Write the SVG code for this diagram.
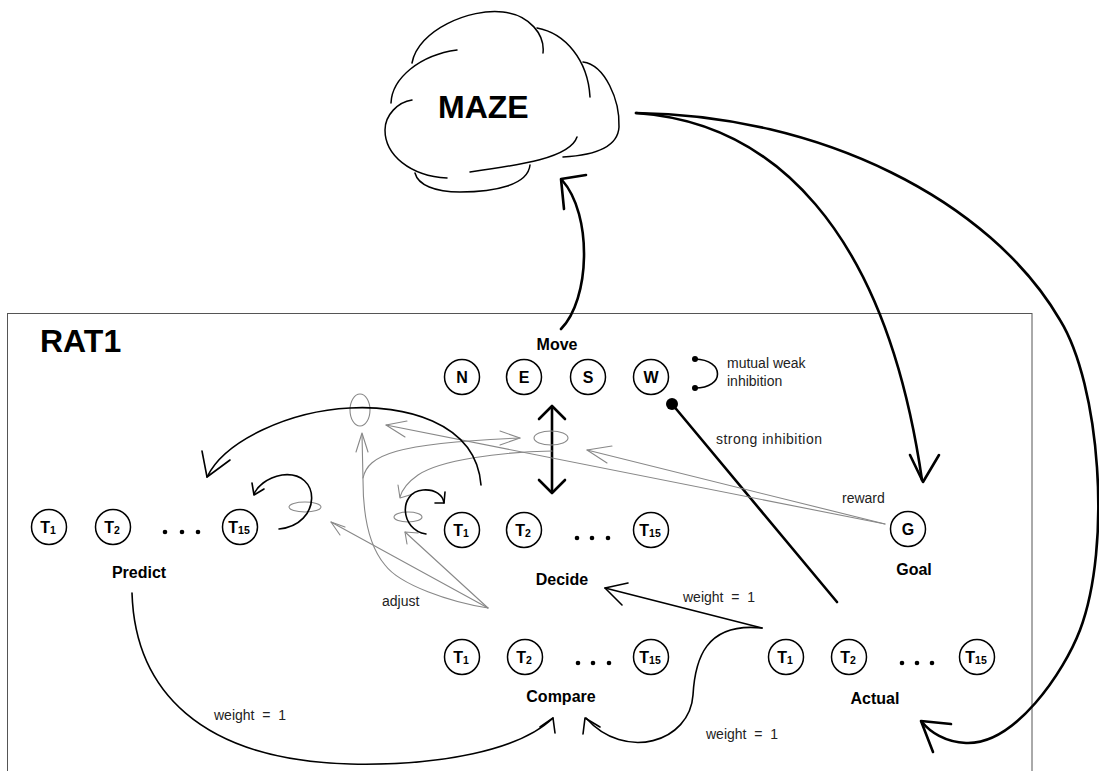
<svg xmlns="http://www.w3.org/2000/svg" width="1099" height="771" viewBox="0 0 1099 771">
<style>
.frame{fill:none;stroke:#555;stroke-width:1}
.cloud{fill:none;stroke:#000;stroke-width:1.5;stroke-linecap:round}
.node{fill:#fff;stroke:#000;stroke-width:1.5}
.nt{font-family:"Liberation Sans",Arial,sans-serif;font-weight:bold;font-size:16px;text-anchor:middle;fill:#000}
.sub{font-size:10.5px}
.title{font-family:"Liberation Sans",Arial,sans-serif;font-weight:bold;font-size:16px;text-anchor:middle;fill:#000}
.big{font-family:"Liberation Sans",Arial,sans-serif;font-weight:bold;font-size:32px;fill:#000}
.lbl{font-family:"Liberation Sans",Arial,sans-serif;font-size:14px;fill:#222}
.dot{fill:#000}
.k{fill:none;stroke:#000;stroke-width:1.6;stroke-linecap:round;stroke-linejoin:round}
.kt{fill:none;stroke:#000;stroke-width:2.6;stroke-linecap:round;stroke-linejoin:round}
.g{fill:none;stroke:#888;stroke-width:1.1;stroke-linecap:round;stroke-linejoin:round}
.ge{fill:none;stroke:#888;stroke-width:1.1}
</style>

<rect class="frame" x="7.5" y="313.5" width="1024.5" height="480"/>
<text class="big" x="40" y="352">RAT1</text>

<g id="maze">
<path class="cloud" d="M412,63 C418,30 470,8 503,12 C530,15 545,35 543,53"/>
<path class="cloud" d="M391,103 C392,78 420,55 457,50"/>
<path class="cloud" d="M537,28 C565,33 588,60 590,97"/>
<path class="cloud" d="M583,62 C605,65 620,100 619,127 C618,145 600,155 563,157"/>
<path class="cloud" d="M577,137 C570,158 520,165 470,172"/>
<path class="cloud" d="M530,165 C528,185 495,192 460,192 C435,192 418,185 415,173"/>
<path class="cloud" d="M447,178 C410,176 385,155 385,130 C385,115 398,102 412,100"/>
<text class="big" x="438" y="118">MAZE</text>
</g>

<g id="move">
<text class="title" x="557" y="350">Move</text>
<circle class="node" cx="462" cy="377" r="17.5"/><text class="nt" x="462" y="383">N</text>
<circle class="node" cx="524" cy="377" r="17.5"/><text class="nt" x="524" y="383">E</text>
<circle class="node" cx="588" cy="377" r="17.5"/><text class="nt" x="588" y="383">S</text>
<circle class="node" cx="651" cy="377" r="17.5"/><text class="nt" x="651" y="383">W</text>
</g>

<g id="predict">
<circle class="node" cx="49" cy="527" r="17.5"/><text class="nt" x="48" y="533">T<tspan class="sub" dy="1">1</tspan></text>
<circle class="node" cx="113" cy="527" r="17.5"/><text class="nt" x="112" y="533">T<tspan class="sub" dy="1">2</tspan></text>
<circle class="dot" cx="165" cy="532" r="2.3"/><circle class="dot" cx="182" cy="532" r="2.3"/><circle class="dot" cx="198" cy="532" r="2.3"/>
<circle class="node" cx="240" cy="527" r="17.5"/><text class="nt" x="239" y="533">T<tspan class="sub" dy="1">15</tspan></text>
<text class="title" x="139" y="578">Predict</text>
</g>

<g id="decide">
<circle class="node" cx="462" cy="530" r="17.5"/><text class="nt" x="461" y="536">T<tspan class="sub" dy="1">1</tspan></text>
<circle class="node" cx="524" cy="530" r="17.5"/><text class="nt" x="523" y="536">T<tspan class="sub" dy="1">2</tspan></text>
<circle class="dot" cx="577" cy="538" r="2.3"/><circle class="dot" cx="592" cy="538" r="2.3"/><circle class="dot" cx="608" cy="538" r="2.3"/>
<circle class="node" cx="651" cy="530" r="17.5"/><text class="nt" x="650" y="536">T<tspan class="sub" dy="1">15</tspan></text>
<text class="title" x="562" y="585">Decide</text>
</g>

<g id="compare">
<circle class="node" cx="462" cy="657" r="17.5"/><text class="nt" x="461" y="663">T<tspan class="sub" dy="1">1</tspan></text>
<circle class="node" cx="525" cy="657" r="17.5"/><text class="nt" x="524" y="663">T<tspan class="sub" dy="1">2</tspan></text>
<circle class="dot" cx="578" cy="663" r="2.3"/><circle class="dot" cx="593" cy="663" r="2.3"/><circle class="dot" cx="609" cy="663" r="2.3"/>
<circle class="node" cx="651" cy="657" r="17.5"/><text class="nt" x="650" y="663">T<tspan class="sub" dy="1">15</tspan></text>
<text class="title" x="561" y="702">Compare</text>
</g>

<g id="actual">
<circle class="node" cx="786" cy="657" r="17.5"/><text class="nt" x="785" y="663">T<tspan class="sub" dy="1">1</tspan></text>
<circle class="node" cx="849" cy="657" r="17.5"/><text class="nt" x="848" y="663">T<tspan class="sub" dy="1">2</tspan></text>
<circle class="dot" cx="902" cy="663" r="2.3"/><circle class="dot" cx="917" cy="663" r="2.3"/><circle class="dot" cx="932" cy="663" r="2.3"/>
<circle class="node" cx="977" cy="657" r="17.5"/><text class="nt" x="976" y="663">T<tspan class="sub" dy="1">15</tspan></text>
<text class="title" x="875" y="704">Actual</text>
</g>

<g id="goal">
<circle class="node" cx="908" cy="529" r="17.5"/><text class="nt" x="908" y="535">G</text>
<text class="title" x="914" y="575">Goal</text>
</g>

<g id="connectors">
<!-- Move to MAZE -->
<path class="kt" d="M561,329 C590,300 593,215 562,180"/>
<path class="kt" d="M586,175 L561,179 L564,209"/>
<!-- MAZE to Goal -->
<path class="kt" d="M636,113 C770,122 885,225 922,480"/>
<path class="kt" d="M910,455 L923,482 L939,455"/>
<!-- MAZE to Actual -->
<path class="kt" d="M636,113 C820,115 990,200 1060,320 C1100,385 1112,545 1080,630 C1064,672 1015,745 966,743 C945,742 930,732 922,722"/>
<path class="kt" d="M951,724 L921,721 L933,752"/>
<!-- mutual weak inhibition -->
<path class="k" d="M695,359 C725,360 725,388 695,388"/>
<circle class="dot" cx="695" cy="359" r="3"/>
<circle class="dot" cx="695" cy="388" r="3"/>
<text class="lbl" x="727" y="368">mutual weak</text>
<text class="lbl" x="727" y="386">inhibition</text>
<!-- strong inhibition -->
<line class="kt" x1="672" y1="404" x2="837" y2="602"/>
<circle class="dot" cx="672" cy="404" r="6"/>
<text class="lbl" x="716" y="444" textLength="106">strong inhibition</text>
<!-- double arrow -->
<line class="kt" x1="552" y1="407" x2="552" y2="491"/>
<path class="kt" d="M539,419 L552,406 L565,419"/>
<path class="kt" d="M539,480 L552,493 L565,480"/>
<!-- gray ellipses -->
<ellipse class="ge" cx="551" cy="438" rx="17" ry="7"/>
<ellipse class="ge" cx="360" cy="410" rx="10" ry="16"/>
<ellipse class="ge" cx="305" cy="507" rx="16" ry="5"/>
<ellipse class="ge" cx="408" cy="517" rx="14" ry="5"/>
<!-- reward lines -->
<path class="g" d="M885,524 L587,450"/>
<path class="g" d="M612,446 L587,450 L607,463"/>
<path class="g" d="M885,524 L386,425"/>
<path class="g" d="M407,421 L386,425 L405,437"/>
<text class="lbl" x="842" y="503">reward</text>
<!-- adjust lines -->
<path class="g" d="M488,608 C450,602 400,585 385,565 C368,545 363,510 363,480 L362,434"/>
<path class="g" d="M356,452 L362,433 L368,452"/>
<path class="g" d="M363,478 C368,455 395,443 520,438"/>
<path class="g" d="M500,431 L520,438 L500,445"/>
<path class="g" d="M488,608 L331,522"/>
<path class="g" d="M345,527 L331,522 L340,535"/>
<path class="g" d="M488,608 L405,532"/>
<path class="g" d="M418,533 L405,532 L407,544"/>
<path class="g" d="M552,451 C500,452 440,460 418,475 C408,482 402,490 400,497"/>
<path class="g" d="M398,485 L400,498 L413,494"/>
<text class="lbl" x="382" y="606">adjust</text>
<!-- black loops -->
<path class="k" d="M279,529 C322,525 322,470 282,475 C266,478 257,487 254,494"/>
<path class="k" d="M264,489 L254,495 L252,483"/>
<path class="k" d="M426,534 C400,530 398,492 423,490 C435,489 443,495 444,503"/>
<path class="k" d="M445,492 L444,503 L435,503"/>
<path class="k" d="M481,485 C476,420 400,405 350,408 C290,411 225,440 207,477"/>
<path class="k" d="M202,451 L207,477 L230,460"/>
<!-- Predict to Compare -->
<path class="k" d="M132,593 C135,690 200,760 350,764 C440,766 520,750 553,718"/>
<path class="k" d="M540,727 L553,718 L555,733"/>
<text class="lbl" x="214" y="720">weight&#160;&#160;=&#160;&#160;1</text>
<!-- Actual to Decide and Compare -->
<path class="k" d="M762,628 L605,588"/>
<path class="k" d="M628,583 L605,588 L622,605"/>
<text class="lbl" x="683" y="602">weight&#160;&#160;=&#160;&#160;1</text>
<path class="k" d="M762,628 C705,622 695,660 693,695 C690,742 625,762 586,718"/>
<path class="k" d="M600,727 L585,718 L583,734"/>
<text class="lbl" x="706" y="739">weight&#160;&#160;=&#160;&#160;1</text>
</g>
</svg>
